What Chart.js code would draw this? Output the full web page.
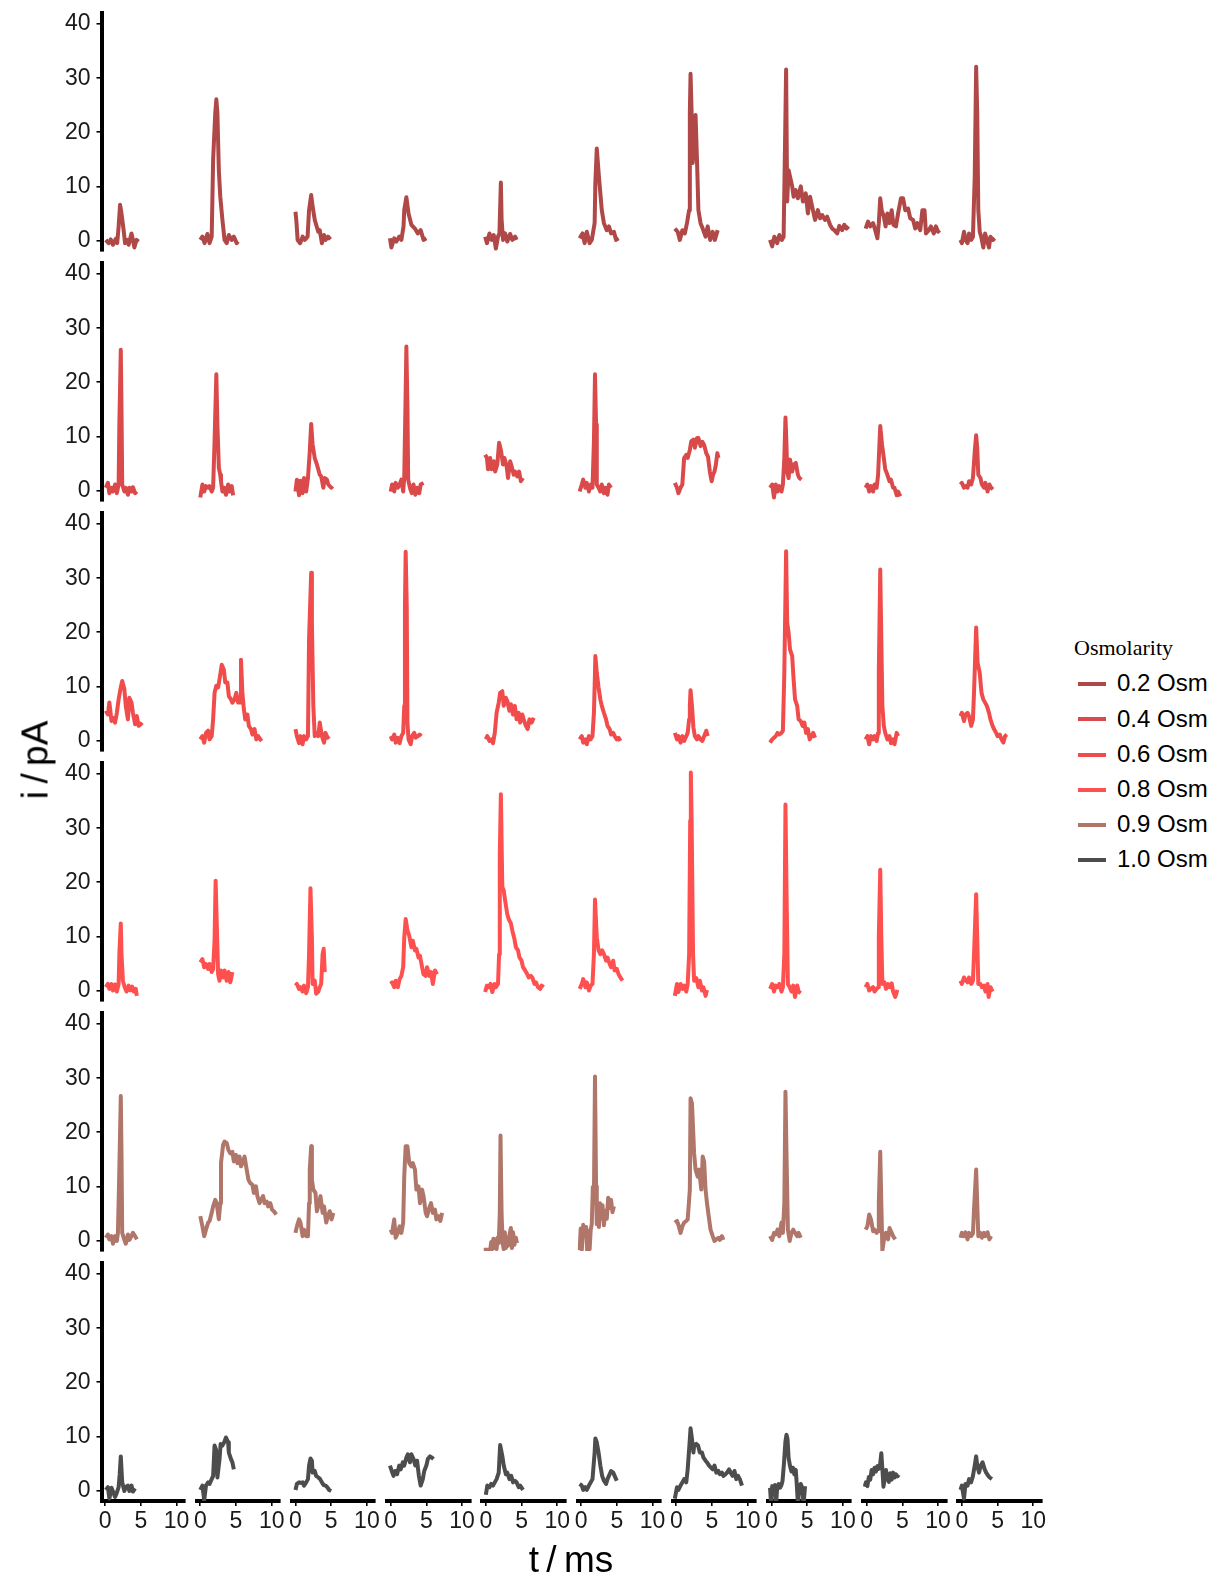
<!DOCTYPE html>
<html>
<head>
<meta charset="utf-8">
<title>Single-channel current sweeps by osmolarity</title>
<script src="https://cdn.jsdelivr.net/npm/chart.js@4.4.1/dist/chart.umd.min.js"></script>
<style>
  html, body { margin: 0; padding: 0; background: #ffffff; }
  #fig { position: relative; width: 1214px; height: 1578px; overflow: hidden; background: #ffffff; }
  #fig canvas { position: absolute; }
  .axis-title { position: absolute; font-family: "Liberation Sans", Arial, sans-serif; font-size: 37px; line-height: 37px; color: #000; white-space: nowrap; }
  #legend-title { position: absolute; left: 1074px; top: 636.6px; font-family: "Liberation Serif", "Times New Roman", serif; font-size: 22px; line-height: 22px; color: #000; white-space: nowrap; }
  .legend-key { position: absolute; left: 1078px; width: 28px; height: 4px; }
  .legend-label { position: absolute; left: 1117px; font-family: "Liberation Sans", Arial, sans-serif; font-size: 24px; line-height: 24px; color: #000; white-space: nowrap; }
</style>
</head>
<body>
<div id="fig"></div>
<script>
// Osmolarity conditions, one row of sweeps each
const osmolarities = ['0.2 Osm', '0.4 Osm', '0.6 Osm', '0.8 Osm', '0.9 Osm', '1.0 Osm'];
const xTicks = [0, 5, 10];            // t / ms
const yTicks = [0, 10, 20, 30, 40];   // i / pA
const tRange = [-0.5, 11.15];
const iRange = [-1.95, 42];

// Each sweep: [t (ms), i (pA)] samples
const sweeps02 = [
  [[0.1,0.1],[0.5,-0.5],[0.8,0.2],[1.1,-0.8],[1.5,0.3],[1.7,-0.5],[1.9,2.6],[2.1,6.6],[2.3,5.0],[2.6,1.9],[2.8,-0.5],[3.1,0.1],[3.3,-0.8],[3.7,1.3],[3.9,0.1],[4.1,-1.3],[4.4,0.1],[4.7,-0.2]],
  [[0.0,0.1],[0.3,0.7],[0.6,-0.5],[1.0,1.2],[1.3,-0.5],[1.6,0.7],[1.8,14.9],[2.1,23.6],[2.25,26.1],[2.4,23.6],[2.6,13.0],[2.8,8.1],[3.1,3.8],[3.4,0.1],[3.7,-0.5],[4.0,1.0],[4.4,0.1],[4.7,0.7],[5.1,-0.5],[5.3,-0.2]],
  [[0.0,5.3],[0.15,3.2],[0.3,0.1],[0.65,-0.5],[1.0,0.7],[1.3,0.1],[1.7,0.7],[1.9,5.6],[2.2,8.4],[2.4,6.3],[2.7,3.8],[2.9,2.9],[3.2,1.6],[3.4,1.9],[3.7,-0.5],[4.0,1.0],[4.2,0.1],[4.55,0.7],[4.9,0.2]],
  [[-0.1,0.4],[0.1,-1.3],[0.5,0.4],[0.8,-0.2],[1.2,0.7],[1.5,0.1],[1.8,2.6],[1.9,5.6],[2.2,8.0],[2.5,5.0],[2.9,2.9],[3.4,2.2],[3.8,1.3],[4.2,1.9],[4.6,0.1],[5.0,0.4]],
  [[-0.1,0.7],[0.15,-0.5],[0.5,1.3],[0.8,0.1],[1.1,1.0],[1.4,-1.5],[1.7,0.7],[1.9,1.3],[2.1,10.7],[2.2,4.0],[2.4,0.1],[2.7,1.3],[3.0,-0.2],[3.4,1.2],[3.7,0.1],[4.1,0.7],[4.3,0.1]],
  [[-0.2,0.4],[0.2,1.3],[0.5,-0.5],[0.8,1.6],[1.2,-0.5],[1.5,0.1],[1.9,3.2],[2.0,10.6],[2.2,17.0],[2.5,11.8],[2.9,5.6],[3.2,3.2],[3.6,1.9],[3.9,2.6],[4.2,1.3],[4.6,1.6],[4.9,0.1],[5.25,0.4]],
  [[-0.2,2.2],[0.2,1.6],[0.5,0.1],[0.85,1.9],[1.2,1.3],[1.5,3.2],[1.8,5.6],[1.9,23.6],[2.0,30.8],[2.15,23.6],[2.3,14.3],[2.5,18.0],[2.7,23.2],[2.9,14.9],[3.1,5.6],[3.4,3.2],[3.7,2.2],[4.1,0.7],[4.4,2.6],[4.75,0.1],[5.1,1.6],[5.4,0.1],[5.8,1.9]],
  [[-0.2,0.1],[0.1,-1.1],[0.4,0.7],[0.8,-0.5],[1.1,1.0],[1.45,0.1],[1.7,0.7],[1.9,18.0],[2.05,31.6],[2.2,7.2],[2.4,13.0],[2.6,11.8],[2.9,10.0],[3.1,8.1],[3.4,9.3],[3.7,7.8],[4.1,10.0],[4.4,7.2],[4.8,8.7],[5.1,5.0],[5.4,8.1],[5.8,5.6],[6.1,3.8],[6.5,5.6],[6.8,4.1],[7.1,4.7],[7.5,3.8],[7.8,4.4],[8.2,2.9],[8.5,2.2],[8.8,1.9],[9.2,1.3],[9.5,2.7],[9.9,1.9],[10.2,2.9],[10.5,2.2],[10.8,2.6]],
  [[-0.15,2.2],[0.2,3.5],[0.5,2.6],[0.9,3.2],[1.2,1.9],[1.5,0.4],[1.7,3.2],[1.9,7.8],[2.1,5.6],[2.4,4.4],[2.65,2.6],[2.9,5.0],[3.2,3.2],[3.5,5.6],[3.75,2.9],[4.1,2.6],[4.4,5.0],[4.8,7.8],[5.1,7.8],[5.4,5.6],[5.8,5.9],[6.1,4.1],[6.5,3.8],[6.8,2.2],[7.1,3.2],[7.5,1.9],[7.8,5.6],[8.1,5.6],[8.3,1.3],[8.7,1.9],[9.0,2.6],[9.4,1.3],[9.7,2.6],[10.0,1.6],[10.2,1.9]],
  [[-0.2,0.1],[0.0,-0.5],[0.3,1.6],[0.5,0.1],[0.8,-0.5],[1.0,1.3],[1.3,0.1],[1.55,0.7],[1.8,11.8],[2.0,32.1],[2.15,23.6],[2.3,5.6],[2.5,1.6],[2.7,0.7],[3.0,-1.3],[3.25,1.3],[3.5,0.1],[3.8,-1.3],[4.0,0.7],[4.35,0.1],[4.6,0.4]]
];

const sweeps04 = [
  [[0.1,0.5],[0.4,1.4],[0.6,-0.5],[0.9,0.5],[1.1,-0.2],[1.4,1.1],[1.65,-0.5],[1.9,1.1],[2.0,12.2],[2.2,26.0],[2.3,15.2],[2.4,1.1],[2.7,-0.2],[2.9,0.5],[3.2,-0.8],[3.4,0.5],[3.7,-0.2],[3.9,0.6],[4.2,-0.5],[4.45,-0.2]],
  [[0.0,-1.3],[0.3,1.1],[0.55,-0.2],[0.8,0.8],[1.1,0.5],[1.3,0.8],[1.6,-0.2],[1.8,0.5],[2.0,9.1],[2.25,21.5],[2.4,12.2],[2.6,4.2],[2.8,2.9],[2.9,1.7],[3.1,-0.2],[3.35,0.5],[3.6,-0.8],[3.9,1.1],[4.1,-0.2],[4.4,0.8],[4.6,-0.9]],
  [[0.0,-0.2],[0.2,2.0],[0.5,-0.9],[0.7,1.8],[1.0,-0.5],[1.2,2.3],[1.5,-0.2],[1.75,2.3],[2.0,7.2],[2.2,12.3],[2.4,8.5],[2.7,6.0],[3.0,4.8],[3.4,2.9],[3.6,2.6],[3.9,0.5],[4.1,2.3],[4.4,2.0],[4.6,1.1],[5.0,0.5],[5.2,0.8]],
  [[0.0,-0.2],[0.2,1.1],[0.5,-0.2],[0.7,1.4],[1.0,0.5],[1.25,1.1],[1.5,2.0],[1.75,-0.2],[1.9,2.3],[2.1,18.3],[2.2,26.6],[2.35,15.2],[2.45,2.0],[2.7,0.5],[2.95,-0.5],[3.2,1.1],[3.45,-0.8],[3.7,0.5],[4.0,-0.5],[4.2,1.1],[4.6,1.4]],
  [[-0.1,6.6],[0.15,6.0],[0.3,3.9],[0.6,6.0],[0.8,3.9],[1.1,5.4],[1.3,3.5],[1.6,4.8],[1.85,8.8],[2.1,7.5],[2.4,4.8],[2.6,6.0],[2.9,4.5],[3.1,2.3],[3.4,5.4],[3.6,4.5],[3.9,2.9],[4.1,3.5],[4.4,2.6],[4.65,3.5],[4.9,1.7],[5.2,2.3]],
  [[-0.2,-0.2],[0.1,1.1],[0.3,2.0],[0.6,0.5],[0.8,1.4],[1.1,-0.2],[1.35,1.1],[1.6,0.5],[1.8,9.1],[1.95,21.5],[2.1,12.2],[2.2,1.1],[2.45,0.5],[2.7,-0.2],[2.9,1.1],[3.2,-0.5],[3.4,0.5],[3.7,-0.8],[3.9,1.1],[4.2,0.5]],
  [[-0.2,1.4],[0.1,0.5],[0.3,-0.5],[0.6,0.5],[0.85,1.1],[1.1,6.0],[1.4,6.6],[1.6,6.0],[1.9,7.5],[2.1,9.1],[2.4,9.4],[2.6,7.9],[2.9,9.7],[3.1,9.7],[3.4,8.2],[3.65,9.0],[3.9,8.4],[4.2,6.9],[4.45,6.2],[4.7,3.5],[4.95,1.7],[5.15,2.9],[5.35,3.5],[5.55,4.8],[5.75,6.9],[5.9,6.0]],
  [[-0.2,0.5],[0.1,1.1],[0.35,-1.3],[0.6,1.1],[0.85,-0.2],[1.1,0.8],[1.4,-0.2],[1.6,1.1],[1.8,6.0],[1.96,13.5],[2.1,8.5],[2.2,3.5],[2.4,2.3],[2.6,5.7],[2.9,3.5],[3.15,4.8],[3.4,5.1],[3.7,2.9],[3.9,2.3],[4.2,2.0]],
  [[-0.15,0.5],[0.1,1.1],[0.35,-0.2],[0.6,0.8],[0.9,-0.2],[1.1,1.1],[1.4,0.5],[1.6,2.9],[1.9,11.9],[2.15,8.5],[2.4,6.0],[2.6,3.9],[2.9,2.9],[3.2,1.7],[3.4,2.0],[3.7,0.5],[3.9,0.5],[4.2,-0.9],[4.4,-0.2],[4.7,-1.1]],
  [[-0.2,1.1],[0.0,1.4],[0.3,0.5],[0.5,0.8],[0.8,0.5],[1.0,1.7],[1.3,1.1],[1.55,2.3],[1.8,7.2],[2.0,10.2],[2.15,7.9],[2.3,2.9],[2.6,2.3],[2.8,1.1],[3.1,0.5],[3.3,1.4],[3.6,-0.2],[3.85,1.1],[4.1,0.5],[4.35,0.2]]
];

const sweeps06 = [
  [[0.1,5.5],[0.4,4.8],[0.6,7.0],[0.9,3.6],[1.1,4.2],[1.4,3.3],[1.65,5.1],[1.9,7.6],[2.2,9.8],[2.4,11.0],[2.7,9.5],[2.9,6.4],[3.2,3.9],[3.4,7.9],[3.7,7.0],[3.9,5.1],[4.2,3.0],[4.45,4.5],[4.7,2.7],[5.0,3.0],[5.2,3.3]],
  [[0.0,0.2],[0.3,0.8],[0.55,-0.4],[0.8,1.4],[1.1,1.8],[1.3,0.2],[1.6,0.8],[1.8,3.9],[2.0,8.8],[2.25,10.1],[2.5,9.8],[2.8,12.2],[3.0,14.0],[3.3,13.1],[3.5,10.7],[3.8,10.7],[4.0,8.2],[4.3,7.6],[4.5,7.0],[4.8,7.6],[5.05,8.8],[5.3,7.0],[5.6,7.0],[5.7,14.9],[5.9,8.8],[6.1,5.8],[6.3,3.9],[6.6,4.8],[6.8,2.7],[7.1,2.1],[7.3,1.1],[7.6,2.1],[7.85,0.2],[8.1,0.8],[8.4,0.2],[8.6,-0.1]],
  [[0.0,2.1],[0.2,0.8],[0.5,-0.5],[0.7,0.8],[1.0,-0.7],[1.2,0.8],[1.5,0.2],[1.75,0.8],[1.9,18.7],[2.2,31.0],[2.3,21.8],[2.5,6.4],[2.7,0.8],[2.9,1.4],[3.2,0.8],[3.4,3.3],[3.7,0.8],[4.0,-0.4],[4.2,1.4],[4.5,0.5],[4.7,0.8]],
  [[0.0,0.8],[0.2,0.2],[0.5,1.1],[0.7,-0.4],[1.0,0.5],[1.25,-0.5],[1.5,0.8],[1.75,1.4],[1.9,6.4],[2.0,24.9],[2.1,34.9],[2.25,24.9],[2.35,3.3],[2.5,0.2],[2.8,-0.7],[3.0,0.8],[3.3,1.4],[3.5,0.5],[3.8,0.8],[4.05,1.1],[4.3,0.8]],
  [[0.0,0.2],[0.2,0.8],[0.5,-0.1],[0.75,0.2],[1.0,-0.5],[1.25,1.4],[1.5,5.1],[1.8,7.0],[2.0,8.8],[2.3,9.1],[2.5,6.4],[2.8,7.9],[3.0,7.3],[3.3,5.5],[3.5,6.7],[3.8,4.8],[4.05,6.4],[4.3,3.9],[4.6,5.1],[4.8,3.3],[5.1,4.8],[5.3,3.9],[5.6,2.7],[5.85,2.1],[6.1,3.9],[6.4,3.3],[6.7,4.2]],
  [[-0.2,0.2],[0.1,0.8],[0.3,-0.4],[0.6,0.2],[0.8,-0.7],[1.1,0.8],[1.35,0.2],[1.6,0.8],[1.8,5.1],[1.95,12.5],[2.0,15.6],[2.2,12.5],[2.45,9.8],[2.7,7.6],[2.9,6.4],[3.2,5.1],[3.5,3.9],[3.7,2.7],[4.0,2.1],[4.2,1.1],[4.5,1.4],[4.7,0.8],[5.0,0.2],[5.25,0.5],[5.5,-0.1]],
  [[-0.2,1.4],[0.1,0.2],[0.3,0.8],[0.6,-0.4],[0.85,0.8],[1.1,-0.1],[1.4,0.8],[1.6,1.4],[1.8,3.9],[1.9,6.4],[2.0,9.3],[2.2,6.4],[2.4,2.4],[2.6,0.8],[2.9,0.2],[3.1,0.8],[3.4,0.2],[3.65,-0.1],[3.9,0.8],[4.2,1.8],[4.4,0.8]],
  [[-0.2,-0.4],[0.1,0.2],[0.35,0.5],[0.6,0.8],[0.85,1.4],[1.1,1.1],[1.4,1.4],[1.6,1.8],[1.8,12.5],[2.05,35.0],[2.2,21.8],[2.4,19.9],[2.6,16.8],[2.9,15.6],[3.1,11.3],[3.3,7.6],[3.6,6.4],[3.8,3.9],[4.1,3.6],[4.35,2.7],[4.6,3.3],[4.85,1.4],[5.1,2.1],[5.35,0.2],[5.6,0.8],[5.85,1.4],[6.1,0.5]],
  [[-0.15,0.2],[0.1,0.8],[0.35,-0.7],[0.6,0.8],[0.9,0.2],[1.1,0.8],[1.4,-0.1],[1.6,1.4],[1.7,12.5],[1.9,31.6],[2.05,18.7],[2.2,6.4],[2.4,2.7],[2.6,1.4],[2.9,0.2],[3.2,0.8],[3.4,-0.5],[3.7,0.2],[3.9,-0.7],[4.2,1.4],[4.4,0.8]],
  [[-0.2,4.5],[0.0,5.1],[0.3,3.6],[0.5,4.8],[0.8,5.1],[1.0,4.5],[1.3,2.7],[1.55,3.9],[1.7,8.8],[2.0,20.9],[2.2,14.4],[2.5,12.5],[2.75,8.8],[3.0,7.6],[3.25,7.0],[3.5,6.4],[3.8,5.1],[4.0,3.9],[4.3,2.7],[4.5,2.1],[4.8,1.4],[5.0,0.8],[5.3,1.1],[5.55,0.2],[5.8,-0.4],[6.05,0.8],[6.3,1.1]]
];

const sweeps08 = [
  [[0.1,0.6],[0.4,1.2],[0.6,0.3],[0.9,1.2],[1.1,0.0],[1.4,1.1],[1.65,-0.2],[1.9,1.2],[2.0,6.7],[2.2,12.4],[2.3,6.7],[2.5,1.8],[2.75,0.6],[3.0,-0.2],[3.3,0.9],[3.5,0.0],[3.8,0.7],[4.0,-0.2],[4.3,0.3],[4.45,-1.0]],
  [[0.0,5.2],[0.3,5.8],[0.55,4.3],[0.8,4.9],[1.1,4.0],[1.3,4.9],[1.6,3.4],[1.8,4.0],[2.0,9.2],[2.15,20.3],[2.3,12.9],[2.5,3.0],[2.7,1.8],[2.9,3.7],[3.2,2.4],[3.4,3.7],[3.7,1.8],[3.95,3.4],[4.2,1.5],[4.5,3.4]],
  [[0.0,0.9],[0.2,1.2],[0.5,0.3],[0.7,0.6],[1.0,-0.2],[1.2,0.9],[1.5,-0.5],[1.75,0.6],[1.9,6.7],[2.1,18.9],[2.3,9.8],[2.4,1.2],[2.7,1.8],[2.9,-0.6],[3.2,-0.2],[3.4,0.6],[3.6,1.2],[3.8,6.7],[3.95,7.7],[4.1,3.4]],
  [[0.0,1.2],[0.2,1.5],[0.5,0.6],[0.7,1.8],[1.0,0.6],[1.25,2.1],[1.5,2.7],[1.75,4.3],[1.9,9.8],[2.1,13.2],[2.35,11.1],[2.6,10.1],[2.9,8.0],[3.1,9.2],[3.4,7.4],[3.6,7.7],[3.9,6.1],[4.1,6.4],[4.4,4.3],[4.6,3.0],[4.9,2.7],[5.1,4.3],[5.4,2.7],[5.65,3.4],[5.9,1.2],[6.2,3.7],[6.5,3.0]],
  [[-0.1,-0.3],[0.15,0.9],[0.4,0.6],[0.65,1.2],[0.9,-0.3],[1.2,1.2],[1.4,0.6],[1.7,1.2],[1.85,6.7],[1.95,25.2],[2.1,36.3],[2.3,19.1],[2.5,18.5],[2.7,16.6],[3.0,14.1],[3.2,13.2],[3.5,12.4],[3.7,11.1],[4.0,9.5],[4.2,8.0],[4.5,7.4],[4.7,6.1],[5.0,5.5],[5.2,4.3],[5.5,3.7],[5.8,3.0],[6.0,2.4],[6.3,2.7],[6.5,2.4],[6.8,1.2],[7.0,1.5],[7.3,0.6],[7.6,0.3],[7.8,0.9],[8.1,0.6]],
  [[-0.2,0.3],[0.1,1.2],[0.3,2.1],[0.6,0.6],[0.8,1.5],[1.1,0.0],[1.35,0.9],[1.6,1.2],[1.8,6.7],[1.95,16.8],[2.2,9.8],[2.45,7.4],[2.7,6.7],[2.95,7.4],[3.2,6.7],[3.5,5.5],[3.7,6.1],[4.0,4.9],[4.2,4.3],[4.5,5.5],[4.7,3.7],[5.0,4.0],[5.25,3.0],[5.5,2.4],[5.8,1.8]],
  [[-0.2,-1.0],[0.1,1.2],[0.3,-0.3],[0.6,1.2],[0.85,0.3],[1.1,0.9],[1.4,-0.2],[1.6,1.2],[1.8,6.7],[1.95,31.4],[2.04,40.3],[2.15,31.4],[2.35,6.7],[2.5,1.8],[2.8,2.3],[3.1,0.6],[3.3,1.8],[3.6,0.0],[3.8,0.6],[4.1,-1.0],[4.3,0.1]],
  [[-0.2,0.3],[0.1,1.2],[0.35,-0.2],[0.6,0.9],[0.85,0.6],[1.1,1.2],[1.4,-0.2],[1.6,0.6],[1.8,6.7],[1.96,34.4],[2.1,19.1],[2.3,1.2],[2.55,0.6],[2.8,-0.2],[3.05,0.9],[3.3,-1.2],[3.6,0.9],[3.8,-0.2],[4.1,-0.5]],
  [[-0.15,0.6],[0.1,1.2],[0.35,0.0],[0.6,0.3],[0.9,0.6],[1.1,-0.2],[1.4,0.3],[1.6,0.6],[1.7,9.8],[1.9,22.3],[2.05,9.8],[2.2,1.2],[2.5,1.5],[2.7,0.3],[3.0,1.2],[3.2,0.6],[3.5,1.3],[3.7,-0.2],[4.0,-1.2],[4.3,0.1]],
  [[-0.2,1.8],[0.0,1.2],[0.3,2.4],[0.5,1.9],[0.8,1.5],[1.0,2.4],[1.3,1.2],[1.55,1.8],[1.7,6.7],[2.0,17.8],[2.15,9.8],[2.3,1.2],[2.6,1.2],[2.8,0.6],[3.1,0.9],[3.3,-0.2],[3.6,1.2],[3.75,-1.2],[4.0,0.6],[4.3,-0.2]]
];

const sweeps09 = [
  [[0.1,0.5],[0.4,1.1],[0.6,0.2],[0.9,0.8],[1.1,-0.6],[1.4,0.8],[1.65,-0.1],[1.8,1.4],[2.0,13.1],[2.2,26.7],[2.3,16.1],[2.4,1.4],[2.7,0.1],[2.9,-0.6],[3.2,1.1],[3.4,0.1],[3.7,0.8],[3.9,1.4],[4.2,0.8],[4.45,0.2]],
  [[0.0,4.5],[0.3,2.6],[0.55,0.8],[0.8,2.0],[1.1,3.3],[1.3,3.6],[1.6,5.1],[1.8,6.3],[2.1,7.5],[2.3,6.9],[2.6,3.9],[2.8,6.9],[2.9,14.3],[3.2,17.7],[3.4,18.3],[3.7,18.0],[3.95,16.7],[4.2,16.1],[4.5,16.4],[4.7,14.6],[5.0,15.8],[5.2,14.3],[5.5,15.5],[5.7,13.7],[6.0,14.6],[6.2,15.5],[6.5,13.1],[6.75,11.2],[7.0,10.6],[7.3,10.3],[7.5,8.8],[7.8,10.0],[8.0,8.2],[8.3,6.9],[8.5,7.5],[8.8,8.2],[9.0,6.9],[9.3,7.2],[9.5,6.3],[9.8,6.9],[10.05,5.7],[10.3,5.4],[10.65,4.8]],
  [[0.0,1.4],[0.2,2.6],[0.5,3.9],[0.7,3.3],[1.0,0.8],[1.2,2.0],[1.5,0.8],[1.75,0.8],[1.9,6.9],[2.0,13.1],[2.2,17.4],[2.3,11.2],[2.5,9.4],[2.8,8.8],[3.0,5.4],[3.3,6.9],[3.5,8.2],[3.8,5.1],[4.0,6.3],[4.3,3.3],[4.55,4.5],[4.8,5.4],[5.05,3.9],[5.3,5.1]],
  [[0.0,2.0],[0.2,1.4],[0.5,3.9],[0.7,0.5],[1.0,1.4],[1.25,2.6],[1.5,1.4],[1.75,3.3],[1.9,11.8],[2.1,17.4],[2.35,17.4],[2.6,14.3],[2.9,13.7],[3.1,14.3],[3.4,13.1],[3.6,9.4],[3.9,10.0],[4.1,6.9],[4.4,9.4],[4.6,8.2],[4.9,5.1],[5.1,4.5],[5.4,6.0],[5.65,6.9],[5.9,5.1],[6.2,5.7],[6.4,3.9],[6.7,4.5],[6.95,3.6],[7.2,5.1]],
  [[-0.3,-1.7],[0.3,-1.7],[0.6,-1.8],[0.75,-0.3],[0.9,-1.6],[1.05,0.3],[1.2,-1.4],[1.35,0.2],[1.5,-1.6],[1.65,0.5],[1.8,-0.5],[1.95,5.0],[2.05,19.4],[2.2,5.0],[2.35,-0.5],[2.5,-1.6],[2.65,1.5],[2.8,-1.4],[2.95,0.5],[3.1,-1.0],[3.3,1.0],[3.5,2.3],[3.65,-1.4],[3.8,1.5],[4.0,-0.8],[4.2,0.5],[4.35,-0.5]],
  [[-0.2,-1.8],[-0.05,2.2],[0.1,-1.8],[0.3,2.9],[0.5,1.2],[0.7,2.5],[0.85,-1.8],[1.0,1.8],[1.2,-1.6],[1.35,2.0],[1.5,3.0],[1.65,9.9],[1.8,8.5],[1.95,30.3],[2.1,10.0],[2.2,3.0],[2.35,6.3],[2.5,2.5],[2.65,6.9],[2.8,4.0],[3.0,6.5],[3.2,2.8],[3.4,5.5],[3.6,4.0],[3.8,7.9],[4.0,6.0],[4.2,7.5],[4.4,5.2],[4.6,6.3]],
  [[-0.2,3.3],[0.1,3.6],[0.3,2.9],[0.6,1.4],[0.85,2.6],[1.1,3.3],[1.4,3.6],[1.6,3.9],[1.9,9.4],[2.0,26.3],[2.2,25.3],[2.4,19.2],[2.5,16.1],[2.7,13.1],[3.0,11.8],[3.2,13.1],[3.5,9.4],[3.7,15.5],[3.9,14.6],[4.1,9.4],[4.3,6.9],[4.6,3.9],[4.8,2.0],[5.1,0.8],[5.35,-0.1],[5.6,0.2],[5.9,0.5],[6.1,0.1],[6.4,0.8],[6.6,0.1]],
  [[-0.2,0.8],[0.1,0.1],[0.35,1.4],[0.6,1.1],[0.85,2.0],[1.1,0.8],[1.4,3.3],[1.6,1.4],[1.8,6.9],[1.96,27.5],[2.1,16.4],[2.3,2.0],[2.55,-0.1],[2.8,1.4],[3.05,2.0],[3.3,1.4],[3.6,0.8],[3.8,1.4],[4.1,0.5]],
  [[-0.15,2.0],[0.1,2.6],[0.35,4.8],[0.6,3.9],[0.9,1.7],[1.1,2.0],[1.4,1.4],[1.6,1.7],[1.7,6.9],[1.9,16.4],[2.05,6.9],[2.2,-1.8],[2.5,0.8],[2.7,1.4],[3.0,0.2],[3.2,2.3],[3.5,1.4],[3.7,0.8],[4.0,0.2]],
  [[-0.2,0.5],[0.0,1.4],[0.3,0.8],[0.5,1.5],[0.8,0.2],[1.0,1.4],[1.3,0.8],[1.55,1.3],[1.7,5.7],[2.0,13.1],[2.15,6.9],[2.3,0.8],[2.6,1.4],[2.8,0.5],[3.1,1.4],[3.3,0.8],[3.6,1.5],[3.85,0.2],[4.1,0.8]]
];

const sweeps10 = [
  [[0.1,0.1],[0.4,0.6],[0.6,-1.5],[0.9,0.5],[1.1,-0.2],[1.4,-1.2],[1.65,-0.4],[1.9,0.6],[2.05,3.0],[2.2,6.3],[2.4,1.5],[2.7,-0.1],[2.9,0.6],[3.2,0.9],[3.4,-0.1],[3.7,0.9],[3.9,-0.2],[4.2,0.4]],
  [[0.0,0.1],[0.3,0.9],[0.55,-1.8],[0.8,0.9],[1.1,1.5],[1.3,1.2],[1.6,2.1],[1.8,2.7],[2.0,8.3],[2.2,7.6],[2.4,2.4],[2.7,5.8],[2.85,8.6],[3.1,8.3],[3.35,8.9],[3.6,9.8],[3.9,8.9],[4.0,7.0],[4.3,5.8],[4.5,5.2],[4.7,3.9]],
  [[0.0,0.1],[0.2,1.2],[0.5,1.5],[0.7,1.4],[1.0,1.5],[1.2,0.9],[1.5,1.5],[1.75,2.1],[1.9,4.6],[2.1,5.9],[2.3,5.5],[2.4,3.3],[2.7,3.6],[2.9,2.7],[3.2,2.4],[3.45,2.1],[3.7,1.5],[3.95,1.0],[4.2,0.9],[4.45,0.6],[4.7,0.1],[5.0,-0.1]],
  [[-0.1,4.6],[0.15,3.6],[0.4,2.7],[0.65,3.6],[0.9,3.0],[1.2,4.6],[1.4,3.9],[1.7,5.2],[1.9,4.6],[2.2,6.1],[2.4,6.7],[2.7,5.2],[2.9,6.7],[3.2,5.8],[3.45,4.6],[3.7,5.5],[3.95,2.7],[4.2,0.9],[4.5,2.1],[4.7,3.6],[5.0,4.6],[5.2,5.8],[5.5,6.3],[5.75,6.1],[6.0,5.8]],
  [[0.0,-0.8],[0.2,0.9],[0.5,0.6],[0.75,1.2],[1.0,0.9],[1.25,1.5],[1.5,2.1],[1.8,3.3],[2.0,8.4],[2.3,6.4],[2.5,4.6],[2.8,3.0],[3.0,3.3],[3.3,2.1],[3.55,2.7],[3.8,1.5],[4.05,1.8],[4.3,1.5],[4.6,0.6],[4.8,0.9],[5.2,0.1]],
  [[-0.2,1.2],[0.1,0.9],[0.3,0.1],[0.6,0.6],[0.8,0.1],[1.1,0.9],[1.35,1.5],[1.6,2.1],[1.9,7.0],[2.0,9.6],[2.2,8.9],[2.45,7.0],[2.7,4.6],[2.95,2.7],[3.2,1.8],[3.5,1.2],[3.7,2.1],[4.0,3.0],[4.2,3.6],[4.5,3.3],[4.7,2.7],[5.0,1.8]],
  [[-0.2,-1.5],[0.1,0.6],[0.3,0.1],[0.6,0.9],[0.85,1.5],[1.1,2.1],[1.4,1.5],[1.6,3.9],[1.9,9.5],[2.0,11.5],[2.2,9.5],[2.4,7.0],[2.5,8.3],[2.8,8.6],[3.05,8.3],[3.3,7.0],[3.6,7.0],[3.8,6.1],[4.1,5.5],[4.3,5.2],[4.6,4.6],[4.8,4.3],[5.1,3.9],[5.35,4.6],[5.6,3.3],[5.9,3.6],[6.1,3.0],[6.4,3.3],[6.6,2.7],[6.9,3.0],[7.1,3.3],[7.4,3.9],[7.6,3.3],[7.9,2.7],[8.15,3.6],[8.4,2.1],[8.65,2.7],[8.9,2.1],[9.2,0.9]],
  [[-0.2,0.5],[-0.05,-2.5],[0.1,0.8],[0.3,0.3],[0.5,1.0],[0.65,-2.5],[0.8,0.6],[1.0,1.2],[1.2,0.5],[1.4,1.0],[1.55,1.8],[1.75,5.0],[1.95,9.0],[2.1,10.3],[2.25,9.5],[2.4,6.0],[2.6,4.5],[2.8,3.5],[3.0,4.2],[3.2,3.0],[3.4,3.8],[3.55,1.0],[3.7,-2.5],[3.9,0.5],[4.1,1.2],[4.3,0.6],[4.5,-2.5],[4.7,0.8]],
  [[-0.3,0.7],[-0.1,1.5],[0.1,0.8],[0.3,2.5],[0.5,2.0],[0.7,3.8],[0.9,3.0],[1.1,4.2],[1.3,3.5],[1.5,4.5],[1.7,4.0],[1.9,5.0],[2.05,6.9],[2.2,4.0],[2.35,0.7],[2.5,2.0],[2.7,3.8],[2.9,2.2],[3.1,1.6],[3.3,3.2],[3.5,2.0],[3.7,3.3],[3.9,2.4],[4.1,3.0],[4.3,2.6],[4.5,2.9]],
  [[-0.2,0.1],[0.0,0.9],[0.3,-1.5],[0.5,1.2],[0.8,0.9],[1.0,2.1],[1.3,1.5],[1.55,2.7],[1.8,4.6],[2.0,6.3],[2.15,4.6],[2.4,3.3],[2.65,4.6],[2.9,5.2],[3.2,3.9],[3.4,3.3],[3.7,2.7],[3.9,2.4],[4.2,2.1]]
];

const sweepsByOsm = [sweeps02, sweeps04, sweeps06, sweeps08, sweeps09, sweeps10];

// ---- styling & layout ----
const rowColors = ['#B04848', '#DB4A4A', '#F04C4C', '#FF5050', '#B0766A', '#4D4D4D'];
const FONT = "'Liberation Sans', Arial, sans-serif";
const PANEL = { left: 101.5, top: 13.3, w: 83.2, h: 237.7, dx: 95.2, dy: 250 };
const MARGIN = 26;     // spare room around each plot area so tick labels never squeeze it
const X_AXIS_H = 44;   // height reserved for the bottom tick marks + labels

const fig = document.getElementById('fig');

function axisStyle() {
  return {
    grid: { display: true, drawOnChartArea: false, drawTicks: true, tickLength: 5, tickColor: '#000', tickWidth: 1.6, color: '#000', lineWidth: 1.6 },
    border: { display: true, color: '#000', width: 4 },
    ticks: { color: '#1a1a1a', font: { family: FONT, size: 23 }, maxRotation: 0, minRotation: 0, autoSkip: false }
  };
}

sweepsByOsm.forEach((sweeps, r) => {
  sweeps.forEach((trace, c) => {
    const pl = PANEL.left + c * PANEL.dx;
    const pt = PANEL.top + r * PANEL.dy;
    const pr = pl + PANEL.w;
    const pb = pt + PANEL.h;
    const firstCol = c === 0;
    const lastRow = r === sweepsByOsm.length - 1;

    // canvas may start above the page edge; the figure box clips it
    const cl = firstCol ? 0 : Math.floor(pl - MARGIN);
    const ct = Math.floor(pt - MARGIN);
    const cr = Math.ceil(pr + MARGIN);
    const cb = Math.ceil(pb + (lastRow ? X_AXIS_H + 6 : MARGIN));

    const canvas = document.createElement('canvas');
    canvas.width = cr - cl;
    canvas.height = cb - ct;
    canvas.style.left = cl + 'px';
    canvas.style.top = ct + 'px';
    canvas.style.width = (cr - cl) + 'px';
    canvas.style.height = (cb - ct) + 'px';
    fig.appendChild(canvas);

    const xAxis = Object.assign(axisStyle(), {
      type: 'linear', min: tRange[0], max: tRange[1], display: lastRow,
      afterBuildTicks: s => { s.ticks = xTicks.map(v => ({ value: v })); }
    });
    xAxis.ticks.padding = 2;
    if (lastRow) xAxis.afterFit = s => { s.height = X_AXIS_H; };

    const yAxis = Object.assign(axisStyle(), {
      type: 'linear', min: iRange[0], max: iRange[1], display: firstCol,
      afterBuildTicks: s => { s.ticks = yTicks.map(v => ({ value: v })); }
    });
    yAxis.ticks.padding = 6;
    if (firstCol) yAxis.afterFit = s => { s.width = pl; };

    new Chart(canvas, {
      type: 'line',
      data: {
        datasets: [{
          label: osmolarities[r],
          data: trace.map(([t, i]) => ({ x: t, y: i })),
          borderColor: rowColors[r],
          borderWidth: 4,
          borderJoinStyle: 'round',
          borderCapStyle: 'butt',
          pointRadius: 0,
          tension: 0,
          clip: 0
        }]
      },
      options: {
        responsive: false,
        animation: false,
        devicePixelRatio: 1,
        events: [],
        layout: {
          padding: {
            left: firstCol ? 0 : pl - cl,
            top: pt - ct,
            right: cr - pr,
            bottom: lastRow ? (cb - pb - X_AXIS_H) : (cb - pb)
          }
        },
        plugins: { legend: { display: false }, tooltip: { enabled: false } },
        scales: { x: xAxis, y: yAxis }
      }
    });
  });
});

// ---- axis titles ----
const yTitle = document.createElement('div');
yTitle.className = 'axis-title';
yTitle.textContent = 'i\u2009/\u2009pA';
yTitle.style.left = '35px';
yTitle.style.top = '760px';
yTitle.style.transform = 'translate(-50%, -50%) rotate(-90deg)';
fig.appendChild(yTitle);

const xTitle = document.createElement('div');
xTitle.className = 'axis-title';
xTitle.textContent = 't\u2009/\u2009ms';
xTitle.style.left = '571px';
xTitle.style.top = '1541px';
xTitle.style.transform = 'translateX(-50%)';
fig.appendChild(xTitle);

// ---- legend ----
const legendTitle = document.createElement('div');
legendTitle.id = 'legend-title';
legendTitle.textContent = 'Osmolarity';
fig.appendChild(legendTitle);

osmolarities.forEach((name, k) => {
  const yc = 684.3 + 35.15 * k;
  const key = document.createElement('div');
  key.className = 'legend-key';
  key.style.top = (yc - 2) + 'px';
  key.style.background = rowColors[k];
  fig.appendChild(key);
  const label = document.createElement('div');
  label.className = 'legend-label';
  label.style.top = (yc - 12.9) + 'px';
  label.textContent = name;
  fig.appendChild(label);
});
</script>
</body>
</html>
